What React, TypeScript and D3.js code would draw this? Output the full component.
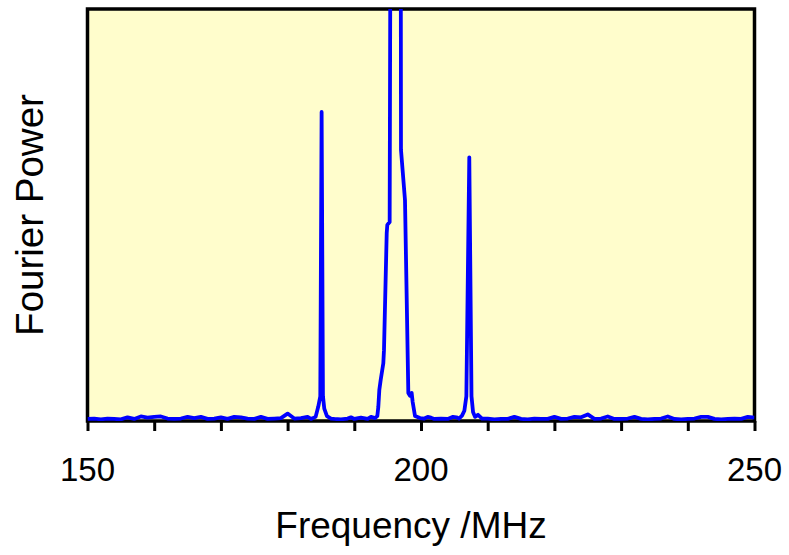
import { useEffect, useRef } from "react";
import * as d3 from "d3";

// frequency (MHz) and Fourier power (arbitrary units, 0-100 visible)
const freq = [
  150, 151, 152, 153, 154, 155, 156, 157, 158, 159, 160, 161, 162, 163, 164, 165, 166,
  167, 168, 169, 170, 171, 172, 173, 174, 175, 176, 177, 178, 179, 180, 181, 182, 183,
  183.5, 184.2, 184.6, 184.9, 185.1, 185.3, 185.5, 185.9, 186.5,
  187, 188, 189, 189.5, 190, 191, 192, 192.5, 193.1,
  193.45, 193.6, 193.75, 193.96, 194.35, 194.45, 194.86, 194.95, 195.3, 195.45,
  196.2, 196.95, 197.0, 197.6, 197.86, 198.1, 198.35, 198.6, 198.75, 199.1, 199.85,
  200.5, 201, 201.5, 202, 203, 204, 204.8, 205.3, 205.7,
  206.15, 206.5, 206.8, 207.24, 207.57, 207.8, 208.1, 208.55, 209.15,
  210, 211, 212, 213, 214, 215, 216, 217, 218, 219, 220, 221, 222, 223, 224, 225, 226,
  227, 228, 229, 230, 231, 232, 233, 234, 235, 236, 237, 238, 239, 240, 241, 242, 243,
  244, 245, 246, 247, 248, 249, 250,
];

const power = [
  0.5, 0.6, 0.4, 0.6, 0.5, 0.4, 0.9, 0.5, 1.1, 0.8, 1.0, 1.1, 0.6, 0.5, 0.6, 1.0, 0.7,
  1.0, 0.5, 0.6, 0.9, 0.5, 1.0, 0.9, 0.6, 0.5, 1.0, 0.5, 0.6, 0.7, 1.8, 0.6, 0.7, 1.0,
  0.5, 1.0, 3.5, 6, 75, 6, 3, 1.2, 0.6,
  0.5, 0.4, 0.6, 0.9, 0.5, 0.8, 0.5, 1.0, 0.7,
  1.2, 3.4, 7.5, 10, 14, 17.2, 45.6, 47.6, 48.3, 140,
  170, 140, 65.8, 53.6, 29.4, 6.8, 6.1, 6.8, 4.6, 1.2, 0.7,
  0.6, 1.0, 0.8, 0.5, 0.6, 0.5, 1.0, 0.9, 0.6,
  1.3, 2.5, 6, 64, 6, 2.2, 1.0, 1.5, 0.6,
  0.6, 0.4, 0.5, 0.5, 1.0, 0.5, 0.4, 0.6, 0.5, 0.5, 1.0, 0.5, 0.6, 1.0, 0.9, 1.6, 0.5,
  0.6, 1.1, 0.5, 0.5, 0.6, 1.0, 0.5, 0.4, 0.5, 0.6, 1.1, 0.5, 0.4, 0.5, 0.6, 1.0, 1.0,
  0.5, 0.4, 0.5, 0.6, 0.5, 1.0, 0.8,
];

const xTickLabels = [150, 200, 250];
const xMinorTicks = [150, 160, 170, 180, 190, 200, 210, 220, 230, 240, 250];

const App = () => {
  const svgRef = useRef<SVGSVGElement>(null);

  useEffect(() => {
    const width = 789;
    const height = 555;
    const left = 87.5;
    const right = 754.5;
    const top = 9;
    const bottom = 421;

    const svg = d3.select(svgRef.current);
    svg.selectAll("*").remove();
    svg.attr("width", width).attr("height", height);

    const xScale = d3.scaleLinear().domain([150, 250]).range([left, right]);
    const yScale = d3.scaleLinear().domain([0, 100]).range([bottom, top]);

    svg
      .append("defs")
      .append("clipPath")
      .attr("id", "plot-clip")
      .append("rect")
      .attr("x", left)
      .attr("y", top)
      .attr("width", right - left)
      .attr("height", bottom - top);

    // plot background
    svg
      .append("rect")
      .attr("x", left)
      .attr("y", top)
      .attr("width", right - left)
      .attr("height", bottom - top)
      .attr("fill", "#FFFDCC");

    // ticks below the axis
    const xAxis = d3
      .axisBottom(xScale)
      .tickValues(xMinorTicks)
      .tickSize(10)
      .tickFormat(() => "");
    const ax = svg.append("g").attr("transform", `translate(0, ${bottom})`).call(xAxis);
    ax.select(".domain").remove();
    ax.selectAll(".tick line").attr("stroke", "black").attr("stroke-width", 3);

    // frame
    svg
      .append("rect")
      .attr("x", left)
      .attr("y", top)
      .attr("width", right - left)
      .attr("height", bottom - top)
      .attr("fill", "none")
      .attr("stroke", "black")
      .attr("stroke-width", 3.5);

    const points = freq.map((f, i) => ({ f, p: power[i] }));
    svg
      .append("path")
      .datum(points)
      .attr("clip-path", "url(#plot-clip)")
      .attr("fill", "none")
      .attr("stroke", "#0000FF")
      .attr("stroke-width", 3.8)
      .attr("stroke-linejoin", "round")
      .attr(
        "d",
        d3
          .line<{ f: number; p: number }>()
          .x((d) => xScale(d.f))
          .y((d) => yScale(d.p))
      );

    svg
      .append("g")
      .selectAll("text")
      .data(xTickLabels)
      .join("text")
      .attr("x", (d) => xScale(d))
      .attr("y", 481)
      .attr("text-anchor", "middle")
      .attr("font-family", "Liberation Sans, Arial, sans-serif")
      .attr("font-size", "33px")
      .attr("fill", "black")
      .text((d) => d);

    svg
      .append("text")
      .attr("x", 411)
      .attr("y", 538)
      .attr("text-anchor", "middle")
      .attr("font-family", "Liberation Sans, Arial, sans-serif")
      .attr("font-size", "37px")
      .attr("fill", "black")
      .text("Frequency /MHz");

    svg
      .append("text")
      .attr("x", -215)
      .attr("y", 43)
      .attr("transform", "rotate(-90)")
      .attr("text-anchor", "middle")
      .attr("font-family", "Liberation Sans, Arial, sans-serif")
      .attr("font-size", "38.5px")
      .attr("fill", "black")
      .text("Fourier Power");
  }, []);

  return (
    <svg
      ref={svgRef}
      style={{ position: "absolute", left: 0, top: 0, background: "white" }}
    ></svg>
  );
};

export default App;
